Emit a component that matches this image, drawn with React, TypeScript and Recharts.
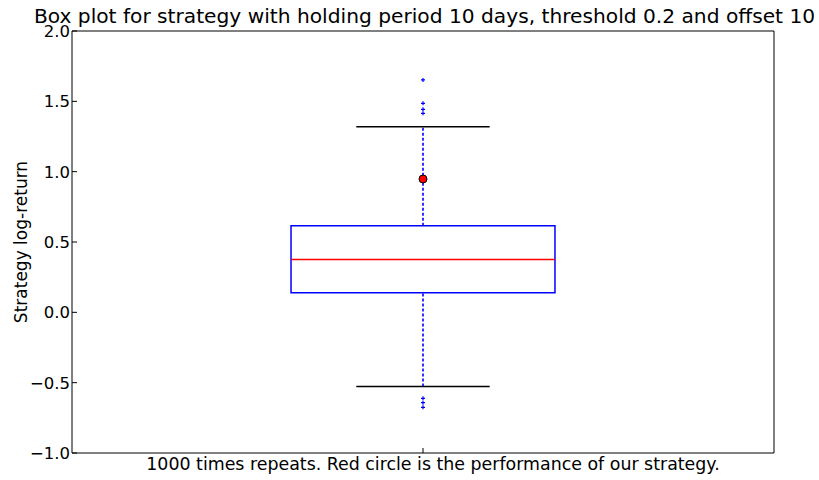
import {
  ComposedChart,
  Scatter,
  XAxis,
  YAxis,
  ReferenceArea,
  ReferenceLine,
} from 'recharts'

// box plot summary for the simulated strategies (log-return)
const positions = [1]
const q1 = [0.14]
const median = [0.375]
const q3 = [0.615]
const whiskerLow = [-0.528]
const whiskerHigh = [1.32]
const outliers = [1.652, 1.486, 1.443, 1.415, -0.611, -0.642, -0.675]
const strategyReturn = [0.948]
const yTicks = [-1.0, -0.5, 0.0, 0.5, 1.0, 1.5, 2.0]

const BOX_HALF = 0.188
const CAP_HALF = 0.095
const TICK = 5
const FONT = 'DejaVu Sans, sans-serif'

const outlierData = outliers.map((v) => ({ x: positions[0], y: v }))
const strategyData = strategyReturn.map((v) => ({ x: positions[0], y: v }))

const fmt = (v: number) => (v < 0 ? '\u2212' + Math.abs(v).toFixed(1) : v.toFixed(1))

// matplotlib style: ticks point into the plot
const LeftTick = (props: any) => {
  const { x, y, payload } = props
  return (
    <g>
      <line x1={x} y1={y} x2={x + TICK} y2={y} stroke="#000" />
      <text x={x - 2} y={y} dy="0.36em" textAnchor="end" fontSize={16.5} fontFamily={FONT} fill="#000">
        {fmt(payload.value)}
      </text>
    </g>
  )
}
const RightTick = (props: any) => {
  const { x, y } = props
  return <line x1={x} y1={y} x2={x - TICK} y2={y} stroke="#000" />
}
const BottomTick = (props: any) => {
  const { x, y } = props
  return <line x1={x} y1={y} x2={x} y2={y - TICK} stroke="#000" />
}
const TopTick = (props: any) => {
  const { x, y } = props
  return <line x1={x} y1={y} x2={x} y2={y + TICK} stroke="#000" />
}

const Plus = (props: any) => {
  const { cx, cy } = props
  return (
    <path
      d={`M${cx - 2},${cy}H${cx + 2}M${cx},${cy - 2}V${cy + 2}`}
      stroke="#0000ff"
      strokeWidth={1.2}
    />
  )
}

const Dot = (props: any) => {
  const { cx, cy } = props
  return <circle cx={cx} cy={cy} r={4} fill="#ff0000" stroke="#000" strokeWidth={1} />
}

export default function App() {
  const p = positions[0]
  return (
    <div style={{ position: 'absolute', left: 0, top: 0, width: 819, height: 480, background: '#fff', fontFamily: FONT }}>
      <div
        style={{
          position: 'absolute',
          left: 0,
          width: 849,
          top: 4,
          textAlign: 'center',
          fontSize: 20.2,
          color: '#000',
          whiteSpace: 'nowrap',
        }}
      >
        Box plot for strategy with holding period 10 days, threshold 0.2 and offset 10
      </div>
      <div
        style={{
          position: 'absolute',
          left: 0,
          width: 866,
          top: 454,
          textAlign: 'center',
          fontSize: 17.4,
          color: '#000',
          whiteSpace: 'nowrap',
        }}
      >
        1000 times repeats. Red circle is the performance of our strategy.
      </div>
      <div
        style={{
          position: 'absolute',
          left: 21,
          top: 242,
          transform: 'translate(-50%, -50%) rotate(-90deg)',
          fontSize: 17,
          color: '#000',
          whiteSpace: 'nowrap',
        }}
      >
        Strategy log-return
      </div>
      <ComposedChart
        width={819}
        height={480}
        margin={{ top: 30, right: 44, bottom: 26, left: 0 }}
        style={{ position: 'absolute', left: 0, top: 0 }}
      >
        <XAxis
          xAxisId="bottom"
          type="number"
          dataKey="x"
          domain={[0.5, 1.5]}
          ticks={positions}
          orientation="bottom"
          height={1}
          stroke="#000"
          tickLine={false}
          tickSize={0}
          tickMargin={0}
          tick={BottomTick}
        />
        <XAxis
          xAxisId="top"
          type="number"
          dataKey="x"
          domain={[0.5, 1.5]}
          ticks={positions}
          orientation="top"
          height={1}
          stroke="#000"
          tickLine={false}
          tickSize={0}
          tickMargin={0}
          tick={TopTick}
        />
        <YAxis
          yAxisId="left"
          type="number"
          dataKey="y"
          domain={[-1, 2]}
          ticks={yTicks}
          width={72}
          stroke="#000"
          tickLine={false}
          tickSize={0}
          tickMargin={0}
          tick={LeftTick}
          interval={0}
        />
        <YAxis
          yAxisId="right"
          orientation="right"
          type="number"
          dataKey="y"
          domain={[-1, 2]}
          ticks={yTicks}
          width={1}
          stroke="#000"
          tickLine={false}
          tickSize={0}
          tickMargin={0}
          tick={RightTick}
          interval={0}
        />
        <ReferenceLine
          xAxisId="bottom"
          yAxisId="left"
          segment={[{ x: p, y: q3[0] }, { x: p, y: whiskerHigh[0] }]}
          stroke="#0000ff"
          strokeWidth={1.6}
          strokeDasharray="3 2"
        />
        <ReferenceLine
          xAxisId="bottom"
          yAxisId="left"
          segment={[{ x: p, y: whiskerLow[0] }, { x: p, y: q1[0] }]}
          stroke="#0000ff"
          strokeWidth={1.6}
          strokeDasharray="3 2"
        />
        <ReferenceArea
          xAxisId="bottom"
          yAxisId="left"
          x1={p - BOX_HALF}
          x2={p + BOX_HALF}
          y1={q1[0]}
          y2={q3[0]}
          fill="#fff"
          fillOpacity={1}
          stroke="#0000ff"
          strokeWidth={1.5}
        />
        <ReferenceLine
          xAxisId="bottom"
          yAxisId="left"
          segment={[{ x: p - BOX_HALF, y: median[0] }, { x: p + BOX_HALF, y: median[0] }]}
          stroke="#ff0000"
          strokeWidth={1.5}
        />
        <ReferenceLine
          xAxisId="bottom"
          yAxisId="left"
          segment={[{ x: p - CAP_HALF, y: whiskerHigh[0] }, { x: p + CAP_HALF, y: whiskerHigh[0] }]}
          stroke="#000"
          strokeWidth={1.5}
        />
        <ReferenceLine
          xAxisId="bottom"
          yAxisId="left"
          segment={[{ x: p - CAP_HALF, y: whiskerLow[0] }, { x: p + CAP_HALF, y: whiskerLow[0] }]}
          stroke="#000"
          strokeWidth={1.5}
        />
        <Scatter
          xAxisId="bottom"
          yAxisId="left"
          data={outlierData}
          shape={Plus}
          isAnimationActive={false}
        />
        <Scatter
          xAxisId="bottom"
          yAxisId="left"
          data={strategyData}
          shape={Dot}
          isAnimationActive={false}
        />
      </ComposedChart>
    </div>
  )
}
